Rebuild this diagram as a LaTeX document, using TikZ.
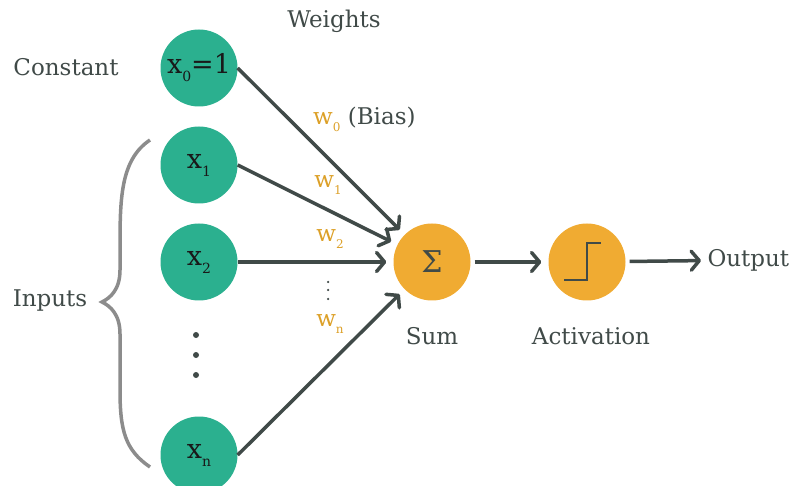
\documentclass[tikz,border=0pt]{standalone}
\usepackage{fontspec}
\setmainfont{DejaVu Serif}
\usetikzlibrary{arrows.meta}
\definecolor{grn}{RGB}{43,176,143}
\definecolor{org}{RGB}{240,171,50}
\definecolor{drk}{RGB}{64,74,72}
\definecolor{brc}{RGB}{140,140,140}
\definecolor{wt}{RGB}{220,160,40}
\newcommand{\sbs}[1]{\raisebox{-8pt}{\fontsize{14}{14}\selectfont #1}}
\newcommand{\wsb}[1]{\raisebox{-7pt}{\fontsize{12}{12}\selectfont #1}}
\begin{document}
\begin{tikzpicture}[x=1pt,y=-1pt,
  inp/.style={circle,fill=grn,minimum size=77pt,inner sep=0pt,font=\fontsize{27}{29}\selectfont,text=black!90},
  neu/.style={circle,fill=org,minimum size=77pt,inner sep=0pt,font=\fontsize{30}{32}\selectfont,text=drk},
  con/.style={draw=drk,line width=3.5pt,shorten >=7pt,-{Straight Barb[length=8pt,width=19pt,round]}},
  lab/.style={font=\fontsize{23}{26}\selectfont,text=drk},
  wlab/.style={font=\fontsize{23}{26}\selectfont,text=wt},
  dot/.style={circle,fill=drk,minimum size=6pt,inner sep=0pt}]
\useasboundingbox (0,0) rectangle (795,486);
\node[inp] (x0) at (199,68) {x\sbs{0}=1};
\node[inp] (x1) at (199,165) {x\sbs{1}};
\node[inp] (x2) at (199,262) {x\sbs{2}};
\node[inp] (xn) at (199,455) {x\sbs{n}};
\node[neu] (sum) at (432,262) {Σ};
\node[neu] (act) at (587,262) {};
\draw[drk,line width=2.5pt] (564,280) -- (587,280) -- (587,243) -- (601,243);
\node[lab,anchor=west] (out) at (704,260) {Output};
\node[dot] (d1) at (196,335) {};
\node[dot] (d2) at (196,355) {};
\node[dot] (d3) at (196,375) {};
\node[lab] (wts) at (334,21) {Weights};
\node[lab] (cst) at (66,67) {Constant};
\node[lab] (inps) at (50,301) {Inputs};
\node[lab] (sl) at (432,336) {Sum};
\node[lab] (al) at (591,336) {Activation};
\node[anchor=west,inner sep=0pt] (w0) at (313,119) {\fontsize{23}{26}\selectfont\color{wt}w\wsb{0} \color{drk}(Bias)};
\node[wlab] (w1) at (328,185) {w\wsb{1}};
\node[wlab] (w2) at (330,239) {w\wsb{2}};
\node[wlab] (wn) at (330,324) {w\wsb{n}};
\node[circle,fill=drk,minimum size=2.5pt,inner sep=0pt] (e1) at (328,282) {};
\node[circle,fill=drk,minimum size=2.5pt,inner sep=0pt] (e2) at (328,290) {};
\node[circle,fill=drk,minimum size=2.5pt,inner sep=0pt] (e3) at (328,299) {};
\draw[con] (x0.east) -- (sum);
\draw[con] (x1.east) -- (sum);
\draw[con] (x2.east) -- (sum);
\draw[con] (xn.east) -- (sum);
\draw[con,shorten <=4pt] (sum) -- (act);
\draw[con,shorten <=4pt,shorten >=3pt] (act) -- (out);
\coordinate (bt) at (150,140);
\coordinate (bb) at (150,467);
\coordinate (bm) at (102,302);
\draw[brc,line width=3.5pt] (bt) .. controls (120,160) and (120,200) .. (120,250)
  -- (120,270) .. controls (120,290) and (110,298) .. (bm)
  .. controls (110,306) and (120,314) .. (120,334) -- (120,390)
  .. controls (120,430) and (125,450) .. (bb);
\end{tikzpicture}
\end{document}
